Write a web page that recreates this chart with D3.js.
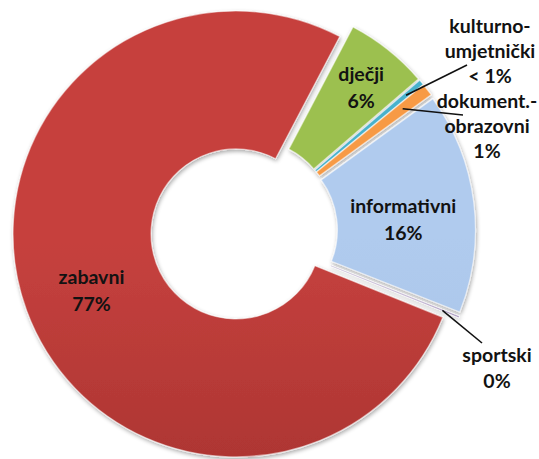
<html>
<head>
<meta charset="utf-8">
<style>
  body { margin: 0; background: #fff; }
  text { font-family: Lato, "Liberation Sans", sans-serif; font-weight: bold; fill: #121212; }
</style>
</head>
<body>
  <svg id="svg" width=539 height=459></svg>

  <script src="https://cdn.jsdelivr.net/npm/d3@7/dist/d3.min.js"></script>
  <script type="text/javascript">
  // shares in %, clockwise starting from informativni
  const categories = ["informativni", "sportski", "zabavni", "dječji", "kulturno-umjetnički", "dokument.-obrazovni"];
  const shares = [16.0, 0.1, 76.6, 6.0, 0.4, 0.9];
  const labelLines = [
    ["informativni", "16%"],
    ["sportski", "0%"],
    ["zabavni", "77%"],
    ["dječji", "6%"],
    ["kulturno-", "umjetnički", "< 1%"],
    ["dokument.-", "obrazovni", "1%"]
  ];
  const topColors = ["#b0cbee", "#8064a2", "#c6413e", "#9cc04f", "#48b1cc", "#f79a45"];
  const botColors = ["#9fbbe0", "#6e5590", "#952a27", "#86a93c", "#2f94b0", "#e57f23"];

  const cx = 244, cy = 231, R = 223, r0 = 85, explode = 8.5;
  const startDeg = 54;

  // where the outside labels sit (layout, not data)
  const outside = {
    1: { x: 497, y: 355.5, lh: 26, end: [482, 343], rho: 0.92 },
    4: { x: 490, y: 26, lh: 25, end: [467, 65], rho: 0.91 },
    5: { x: 487, y: 101, lh: 25, end: [463, 115], rho: 0.86 }
  };
  const nudge = { 0: [-2, 9.5], 2: [0, 3.5], 3: [16, -16] };

  const svg = d3.select("#svg");
  const defs = svg.append("defs");

  const sh = defs.append("filter").attr("id", "shadow")
    .attr("x", "-10%").attr("y", "-10%").attr("width", "120%").attr("height", "120%");
  sh.append("feGaussianBlur").attr("in", "SourceAlpha").attr("stdDeviation", 2.2).attr("result", "b");
  sh.append("feOffset").attr("in", "b").attr("dx", 1).attr("dy", 1.5).attr("result", "o");
  sh.append("feComponentTransfer").attr("in", "o").attr("result", "s")
    .append("feFuncA").attr("type", "linear").attr("slope", 0.35);
  const mg = sh.append("feMerge");
  mg.append("feMergeNode").attr("in", "s");
  mg.append("feMergeNode").attr("in", "SourceGraphic");

  categories.forEach(function (c, i) {
    const g = defs.append("linearGradient").attr("id", "grad" + i)
      .attr("gradientUnits", "userSpaceOnUse")
      .attr("x1", 0).attr("y1", cy - R).attr("x2", 0).attr("y2", cy + R);
    g.append("stop").attr("offset", "0%").attr("stop-color", topColors[i]);
    g.append("stop").attr("offset", "100%").attr("stop-color", botColors[i]);
  });

  const rad = Math.PI / 180;
  const pie = d3.pie().sort(null).value(d => d)
    .startAngle(startDeg * rad).endAngle(startDeg * rad + 2 * Math.PI);
  const arcs = pie(shares);
  const arc = d3.arc().innerRadius(r0).outerRadius(R);

  function offset(a) {
    const m = (a.startAngle + a.endAngle) / 2;
    return [cx + explode * Math.sin(m), cy - explode * Math.cos(m)];
  }

  const slices = svg.append("g").attr("filter", "url(#shadow)")
    .selectAll("g").data(arcs).enter().append("g")
    .attr("transform", function (d) {
      const o = offset(d);
      return "translate(" + o[0] + "," + o[1] + ")";
    });

  slices.append("path")
    .attr("d", arc)
    .style("fill", (d, i) => "url(#grad" + i + ")")
    .style("stroke", "#ffffff")
    .style("stroke-opacity", 0.55)
    .style("stroke-width", "1.2px")
    .style("stroke-linejoin", "round");

  // leader lines for the small slices
  const leaders = svg.append("g");
  arcs.forEach(function (d, i) {
    const o = outside[i];
    if (!o) return;
    const m = (d.startAngle + d.endAngle) / 2;
    const c = offset(d);
    const sx = c[0] + o.rho * R * Math.sin(m);
    const sy = c[1] - o.rho * R * Math.cos(m);
    leaders.append("line")
      .attr("x1", sx).attr("y1", sy)
      .attr("x2", o.end[0]).attr("y2", o.end[1])
      .style("stroke", "#111")
      .style("stroke-width", "1.6px");
  });

  const fs = 19.5, inLh = 27;
  const labels = svg.append("g");
  arcs.forEach(function (d, i) {
    let x, y, lh;
    if (outside[i]) {
      x = outside[i].x; y = outside[i].y; lh = outside[i].lh;
    } else {
      const c = offset(d);
      const ct = arc.centroid(d);
      const n = nudge[i] || [0, 0];
      lh = inLh;
      x = c[0] + ct[0] + n[0];
      y = c[1] + ct[1] + n[1] - (labelLines[i].length - 1) * lh / 2;
    }
    const t = labels.append("text")
      .attr("text-anchor", "middle")
      .attr("font-size", fs);
    labelLines[i].forEach(function (s, k) {
      t.append("tspan").attr("x", x).attr("y", y + k * lh).attr("dy", "0.35em").text(s);
    });
  });
  </script>
</body>
</html>
